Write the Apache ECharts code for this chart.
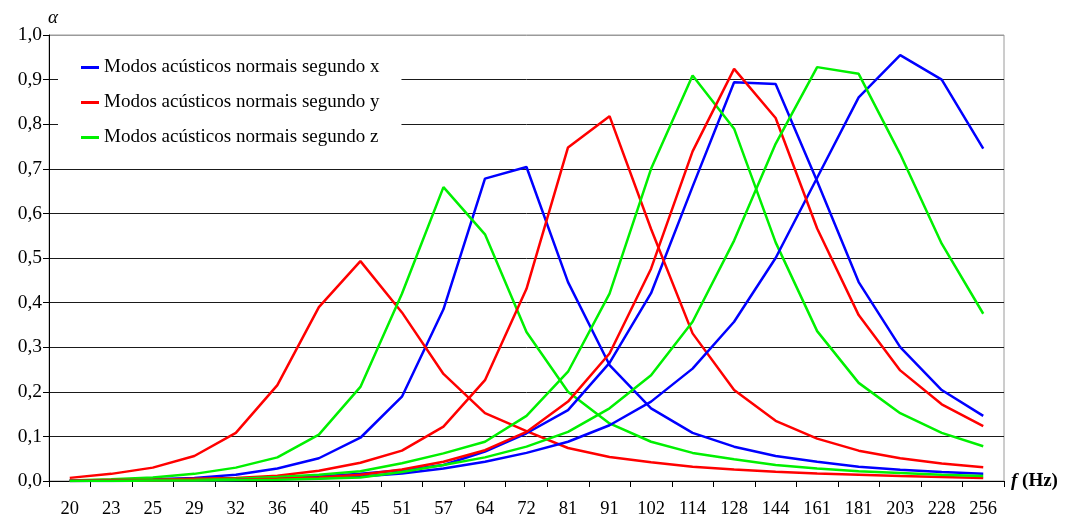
<!DOCTYPE html>
<html>
<head>
<meta charset="utf-8">
<script src="https://cdn.jsdelivr.net/npm/echarts@6/dist/echarts.min.js"></script>
<style>
html,body{margin:0;padding:0;background:#fff;}
#chart{width:1065px;height:521px;}
</style>
</head>
<body>
<div id="chart"></div>
<script>
var categories = ['20','23','25','29','32','36','40','45','51','57','64','72','81','91','102','114','128','144','161','181','203','228','256'];
var yTickLabels = ['0,0','0,1','0,2','0,3','0,4','0,5','0,6','0,7','0,8','0,9','1,0'];

var nameX = 'Modos acústicos normais segundo x';
var nameY = 'Modos acústicos normais segundo y';
var nameZ = 'Modos acústicos normais segundo z';

// Modes along x (blue)
var x1 = [0.001,0.002,0.004,0.007,0.014,0.028,0.051,0.097,0.189,0.385,0.678,0.704,0.446,0.26,0.163,0.108,0.077,0.056,0.043,0.032,0.025,0.02,0.016];
var x2 = [0,0.001,0.001,0.002,0.004,0.006,0.01,0.016,0.024,0.036,0.066,0.107,0.159,0.265,0.421,0.66,0.894,0.89,0.672,0.446,0.3,0.204,0.146];
var x3 = [0,0,0.001,0.001,0.002,0.004,0.006,0.01,0.017,0.028,0.043,0.063,0.088,0.125,0.178,0.252,0.357,0.5,0.68,0.86,0.955,0.9,0.745];
// Modes along y (red)
var y1 = [0.007,0.016,0.03,0.056,0.108,0.215,0.39,0.493,0.378,0.24,0.152,0.112,0.074,0.054,0.042,0.032,0.026,0.021,0.017,0.014,0.011,0.009,0.007];
var y2 = [0.001,0.002,0.003,0.005,0.007,0.012,0.023,0.041,0.068,0.122,0.226,0.431,0.748,0.818,0.565,0.331,0.204,0.135,0.095,0.068,0.051,0.039,0.031];
var y3 = [0,0.001,0.001,0.002,0.003,0.005,0.008,0.014,0.026,0.043,0.069,0.11,0.178,0.286,0.476,0.739,0.924,0.814,0.566,0.372,0.248,0.172,0.123];
// Modes along z (green)
var z1 = [0.001,0.004,0.008,0.016,0.03,0.053,0.104,0.211,0.42,0.659,0.553,0.334,0.2,0.129,0.088,0.063,0.049,0.036,0.028,0.022,0.018,0.014,0.011];
var z2 = [0,0.001,0.002,0.003,0.005,0.009,0.014,0.022,0.04,0.062,0.088,0.146,0.245,0.42,0.7,0.909,0.79,0.535,0.336,0.22,0.152,0.108,0.078];
var z3 = [0,0,0.001,0.001,0.002,0.003,0.005,0.008,0.02,0.036,0.053,0.077,0.11,0.163,0.237,0.357,0.539,0.756,0.928,0.913,0.733,0.532,0.375];

var BLUE = '#0000ff', RED = '#ff0000', GREEN = '#00f000';
var FONT = 'Liberation Serif';

function mk(name, data, color) {
  return {
    name: name, type: 'line', data: data, symbol: 'none', smooth: false,
    color: color,
    lineStyle: { color: color, width: 2.5 },
    emphasis: { disabled: true }
  };
}

var splitColors = [];
for (var i = 0; i < 11; i++) splitColors.push(i === 10 ? '#9a9a9a' : '#1a1a1a');

var chart = echarts.init(document.getElementById('chart'), null, { renderer: 'canvas' });
chart.setOption({
  animation: false,
  backgroundColor: '#ffffff',
  textStyle: { fontFamily: FONT },
  grid: { left: 49, right: 61, top: 35, bottom: 40, show: true, borderColor: '#9a9a9a', borderWidth: 1, backgroundColor: 'transparent' },
  legend: {
    data: [nameX, nameY, nameZ],
    orient: 'vertical',
    left: 58, top: 50,
    padding: [8, 22, 8, 23],
    itemGap: 16,
    itemWidth: 18, itemHeight: 3,
    icon: 'rect',
    backgroundColor: '#ffffff',
    textStyle: { fontFamily: FONT, fontSize: 19, color: '#000' },
    selectedMode: false
  },
  xAxis: {
    type: 'category',
    data: categories,
    boundaryGap: true,
    name: '{f|f} (Hz)',
    nameLocation: 'end',
    nameGap: 7,
    nameTextStyle: {
      fontFamily: FONT, fontSize: 19, fontWeight: 'bold', color: '#000',
      rich: { f: { fontFamily: FONT, fontSize: 19, fontWeight: 'bold', fontStyle: 'italic', color: '#000' } }
    },
    axisLine: { lineStyle: { color: '#000', width: 1 } },
    axisTick: { show: true, alignWithLabel: false, inside: false, length: 6, lineStyle: { color: '#000' } },
    axisLabel: { fontFamily: FONT, fontSize: 18.5, color: '#000', margin: 19, interval: 0 },
    splitLine: { show: false }
  },
  yAxis: {
    type: 'value',
    min: 0, max: 1, interval: 0.1,
    name: 'α',
    nameLocation: 'end',
    nameGap: 8,
    nameTextStyle: { fontFamily: FONT, fontSize: 19, fontStyle: 'italic', color: '#000', align: 'left', padding: [0, 0, 0, -1] },
    axisLine: { show: true, lineStyle: { color: '#000', width: 1 } },
    axisTick: { show: true, inside: false, length: 6, lineStyle: { color: '#000' } },
    axisLabel: {
      fontFamily: FONT, fontSize: 19.5, color: '#000', margin: 7,
      formatter: function (v) { return yTickLabels[Math.round(v * 10)]; }
    },
    splitLine: { show: true, lineStyle: { color: splitColors, width: 1 } }
  },
  series: [
    mk(nameX, x1, BLUE), mk(nameY, y1, RED), mk(nameZ, z1, GREEN),
    mk(nameX, x2, BLUE), mk(nameY, y2, RED), mk(nameZ, z2, GREEN),
    mk(nameX, x3, BLUE), mk(nameY, y3, RED), mk(nameZ, z3, GREEN)
  ]
});
</script>
</body>
</html>
